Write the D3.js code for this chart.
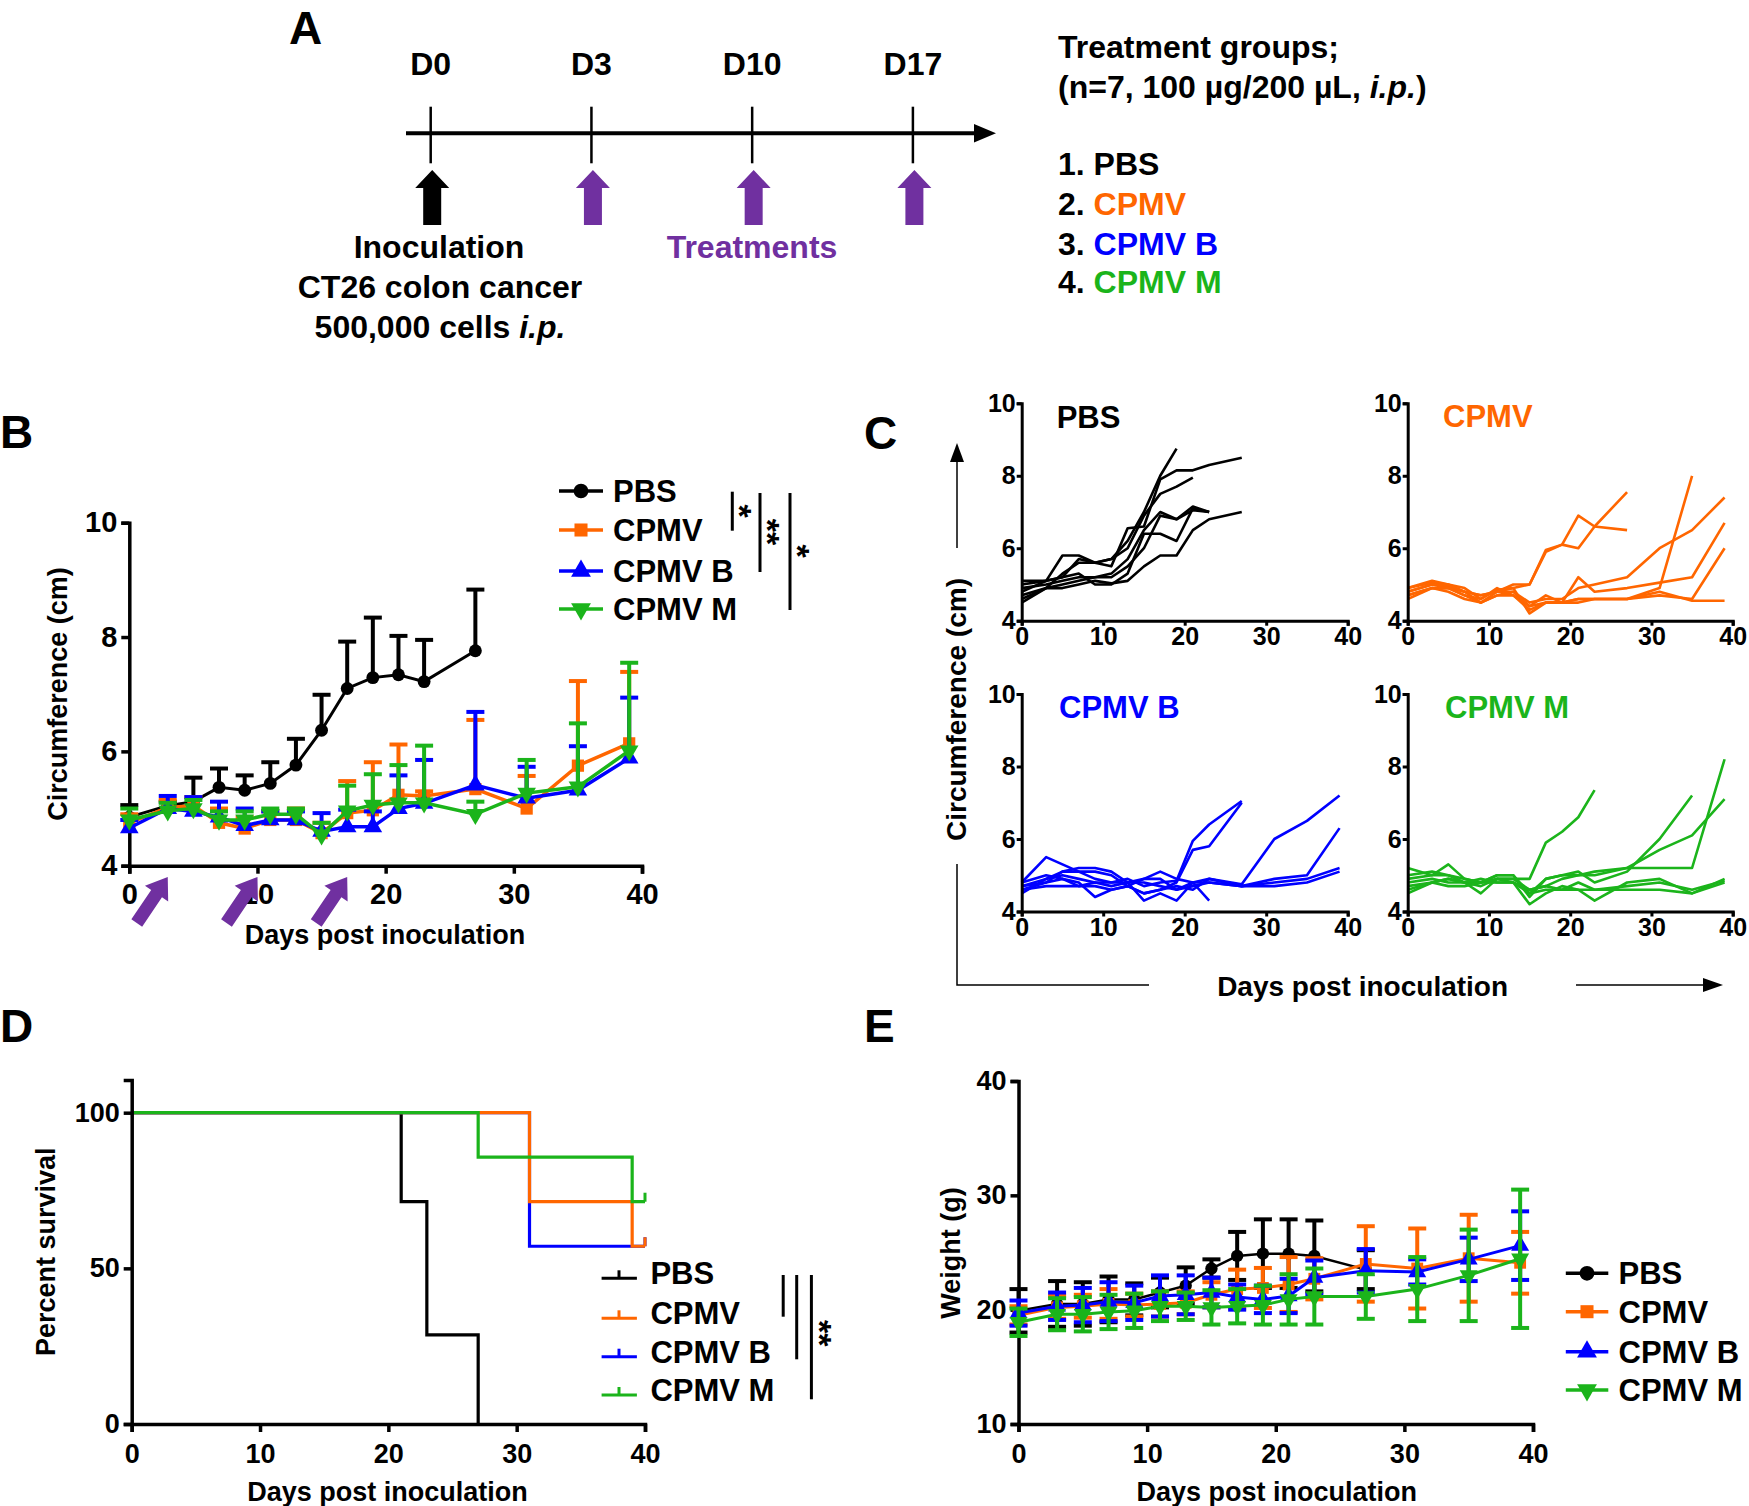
<!DOCTYPE html>
<html><head><meta charset="utf-8">
<script src="https://cdn.jsdelivr.net/npm/d3@7"></script>
<style>
body{margin:0;background:#fff;}
</style></head><body>
<svg id="fig" width="1749" height="1506" xmlns="http://www.w3.org/2000/svg"></svg>
<script>
// ---------------- DATA ----------------
const groups = ["PBS", "CPMV", "CPMV B", "CPMV M"];
const groupColors = ["#000000", "#FF6600", "#0000FF", "#1BB41B"];
const timelineLabels = ["D0", "D3", "D10", "D17"];
const treatmentDays = [3, 10, 17];
const measureDays = [0, 3, 5, 7, 9, 11, 13, 15, 17, 19, 21, 23, 27, 31, 35, 39];
const dayTicks = [0, 10, 20, 30, 40];

// Panel B: mean circumference (cm) and upper error (mean + SEM)
const bPBS      = [4.85, 5.05, 5.12, 5.37, 5.32, 5.44, 5.76, 6.37, 7.10, 7.29, 7.34, 7.22, 7.76];
const bPBSTop   = [5.06, 5.12, 5.54, 5.70, 5.58, 5.81, 6.22, 6.99, 7.92, 8.34, 8.02, 7.95, 8.83];
const bCPMV     = [4.75, 5.02, 5.05, 4.75, 4.65, 4.80, 4.80, 4.57, 4.92, 4.97, 5.24, 5.22, 5.34, 5.00, 5.75, 6.14];
const bCPMVTop  = [4.90, 5.15, 5.20, 5.00, 4.85, 4.95, 5.00, 4.75, 5.48, 5.81, 6.12, 5.30, 6.55, 5.57, 7.23, 7.39];
const bCPMVB    = [4.66, 5.00, 4.95, 4.85, 4.70, 4.80, 4.80, 4.60, 4.68, 4.68, 5.00, 5.09, 5.41, 5.18, 5.32, 5.88];
const bCPMVBTop = [4.80, 5.22, 5.20, 5.12, 5.00, 4.95, 4.95, 4.92, 4.98, 4.95, 5.58, 5.85, 6.69, 5.73, 6.09, 6.94];
const bCPMVM    = [4.80, 4.96, 5.00, 4.80, 4.80, 4.90, 4.90, 4.54, 4.96, 5.06, 5.10, 5.10, 4.90, 5.27, 5.38, 6.01];
const bCPMVMTop = [5.00, 5.10, 5.15, 4.95, 4.95, 5.00, 5.00, 4.75, 5.40, 5.60, 5.76, 6.10, 5.12, 5.85, 6.49, 7.55];

// Panel C: individual mice (values at measureDays, truncated at last measurement)
const cPBS = [
  [4.6, 4.9, 5.3, 5.6, 5.6, 5.7, 6.2, 7.0, 8.0, 8.75],
  [5.1, 5.1, 5.8, 5.8, 5.6, 5.5, 6.55, 6.6, 7.9, 8.15, 8.15, 8.3, 8.5],
  [4.8, 5.1, 5.2, 5.7, 5.6, 5.7, 6.0, 6.9, 7.5, 7.7, 7.95],
  [4.9, 5.0, 5.1, 5.2, 5.2, 5.3, 5.7, 6.5, 7.0, 6.8, 7.15, 7.0],
  [5.0, 5.1, 5.2, 5.3, 5.0, 5.0, 5.3, 6.4, 6.4, 6.2, 7.1, 7.0],
  [4.5, 4.9, 4.9, 5.0, 5.1, 5.03, 5.1, 5.5, 5.8, 5.8, 6.5, 6.8, 7.0],
  [4.7, 4.9, 5.0, 5.1, 5.2, 5.2, 5.5, 6.0, 6.9, 6.8, 7.05, 7.0]
];
const cCPMV = [
  [4.9, 5.05, 5.0, 4.9, 4.6, 4.85, 4.9, 5.0, 5.9, 6.1, 6.9, 6.6, 6.5],
  [4.8, 5.0, 4.95, 4.8, 4.7, 4.8, 5.0, 5.0, 5.95, 6.1, 6.0, 6.6, 7.55],
  [4.9, 5.1, 5.0, 4.8, 4.5, 4.8, 4.9, 4.2, 4.5, 4.5, 4.6, 4.6, 4.6, 4.9, 8.0],
  [4.7, 4.9, 4.9, 4.8, 4.7, 4.8, 4.8, 4.5, 4.6, 4.6, 4.9, 5.0, 5.2, 6.0, 6.5, 7.4],
  [4.8, 5.0, 4.9, 4.7, 4.6, 4.9, 4.7, 4.4, 4.7, 4.5, 5.2, 4.8, 4.9, 5.05, 5.2, 6.7],
  [4.6, 4.9, 4.9, 4.7, 4.5, 4.7, 4.8, 4.4, 4.5, 4.5, 4.6, 4.6, 4.6, 4.7, 4.6, 6.0],
  [4.7, 4.9, 4.8, 4.6, 4.5, 4.7, 4.7, 4.3, 4.5, 4.5, 4.5, 4.6, 4.6, 4.8, 4.55, 4.55]
];
const cCPMVB = [
  [4.7, 4.9, 5.0, 4.9, 4.8, 4.8, 4.9, 4.7, 4.8, 4.85, 5.95, 6.4, 7.05],
  [4.6, 4.8, 5.1, 5.1, 5.1, 5.0, 4.7, 4.5, 4.6, 4.8, 5.7, 5.8, 7.0],
  [4.8, 5.5, 5.3, 5.1, 4.9, 4.8, 4.8, 4.3, 4.5, 4.3, 4.8, 4.3],
  [4.5, 4.9, 5.1, 5.2, 5.2, 5.1, 4.8, 4.9, 5.1, 4.9, 4.8, 4.9, 4.75, 6.0, 6.5, 7.2],
  [4.7, 4.8, 4.9, 4.8, 4.4, 4.6, 4.7, 4.9, 4.9, 4.6, 4.7, 4.8, 4.7, 4.9, 5.0, 6.3],
  [4.8, 5.0, 4.9, 4.7, 4.7, 4.6, 4.7, 4.5, 4.6, 4.7, 4.6, 4.9, 4.7, 4.8, 4.9, 5.2],
  [4.6, 4.7, 4.7, 4.7, 4.8, 4.7, 4.8, 4.8, 4.7, 4.6, 4.8, 4.8, 4.7, 4.7, 4.8, 5.1]
];
const cCPMVM = [
  [4.9, 5.0, 5.0, 4.9, 4.8, 4.9, 4.9, 4.9, 5.9, 6.2, 6.6, 7.35],
  [5.2, 5.0, 5.3, 4.9, 4.8, 5.0, 5.0, 4.4, 4.9, 5.0, 5.1, 4.8, 5.1, 6.0, 7.2],
  [5.0, 5.1, 5.0, 4.8, 4.8, 5.0, 5.0, 4.5, 4.9, 5.0, 5.0, 5.1, 5.2, 5.2, 5.2, 8.2],
  [4.5, 4.8, 4.9, 4.8, 4.7, 4.9, 4.9, 4.6, 4.7, 4.9, 5.0, 5.0, 5.2, 5.7, 6.1, 7.1],
  [4.8, 4.9, 4.8, 4.8, 4.9, 4.8, 4.8, 4.2, 4.5, 4.7, 4.6, 4.3, 4.8, 4.9, 4.5, 4.9],
  [4.6, 4.8, 4.9, 4.8, 4.5, 4.9, 4.8, 4.6, 4.7, 4.6, 4.8, 4.6, 4.7, 4.8, 4.6, 4.85],
  [4.7, 4.8, 4.7, 4.7, 4.8, 4.8, 4.8, 4.5, 4.6, 4.6, 4.6, 4.6, 4.6, 4.6, 4.5, 4.8]
];

// Panel D: Kaplan-Meier steps [day, percent survival]
const survPBS   = [[0, 100], [21, 71.4], [23, 28.6], [27, 0]];
const survCPMV  = [[0, 100], [31, 71.4], [39, 57.1], [40, 57.1]];
const survCPMVB = [[0, 100], [31, 57.1], [40, 57.1]];
const survCPMVM = [[0, 100], [27, 85.7], [39, 71.4], [40, 71.4]];

// Panel E: weight (g) mean and SD
const ePBS      = [19.9, 20.5, 20.5, 20.9, 20.9, 21.5, 22.1, 23.6, 24.7, 24.9, 24.9, 24.7, 23.5];
const ePBSErr   = [1.9, 2.0, 1.9, 2.0, 1.4, 1.3, 1.6, 0.8, 2.1, 3.0, 3.0, 3.1, 1.7];
const eCPMV     = [19.5, 20.2, 20.3, 20.5, 20.4, 20.5, 20.6, 21.3, 21.8, 21.9, 22.2, 22.7, 24.0, 23.6, 24.5, 24.1];
const eCPMVErr  = [0.8, 1.0, 1.0, 1.3, 1.0, 1.1, 1.0, 1.1, 1.7, 1.75, 2.4, 1.8, 3.3, 3.5, 3.8, 2.7];
const eCPMVB    = [19.7, 20.3, 20.4, 20.7, 20.6, 21.2, 21.3, 21.5, 21.1, 20.9, 21.2, 22.8, 23.4, 23.3, 24.4, 25.6];
const eCPMVBErr = [1.1, 1.2, 1.5, 1.7, 1.5, 1.8, 1.7, 1.3, 1.1, 1.2, 1.5, 1.5, 1.9, 1.1, 1.9, 3.0];
const eCPMVM    = [18.9, 19.6, 19.6, 19.8, 19.9, 20.3, 20.3, 20.2, 20.3, 20.4, 20.9, 21.15, 21.15, 21.8, 23.0, 24.45];
const eCPMVMErr = [1.2, 1.4, 1.5, 1.5, 1.5, 1.3, 1.2, 1.5, 1.5, 1.7, 2.2, 2.45, 1.95, 2.8, 4.0, 6.05];

// ---------------- DRAWING ----------------
const FONT = '"Liberation Sans", Arial, Helvetica, sans-serif';
const PURPLE = "#7030A0";
const svg = d3.select("#fig");

function txt(g, x, y, s, size, o = {}) {
  const t = g.append("text").attr("x", x).attr("y", y)
    .attr("font-size", size).attr("font-weight", "bold").attr("font-family", FONT)
    .attr("fill", o.fill || "#000").attr("text-anchor", o.anchor || "start");
  if (o.rotate) t.attr("transform", `rotate(${o.rotate},${x},${y})`);
  if (o.central) t.attr("dominant-baseline", "central");
  if (s !== null) t.text(s);
  return t;
}
function blockArrow(g, x1, y1, x2, y2, sw, hw, hl, color) {
  const dx = x2 - x1, dy = y2 - y1, L = Math.hypot(dx, dy);
  const ux = dx / L, uy = dy / L, px = -uy, py = ux;
  const bx = x2 - ux * hl, by = y2 - uy * hl;
  const pts = [
    [x1 + px * sw / 2, y1 + py * sw / 2], [bx + px * sw / 2, by + py * sw / 2],
    [bx + px * hw / 2, by + py * hw / 2], [x2, y2],
    [bx - px * hw / 2, by - py * hw / 2], [bx - px * sw / 2, by - py * sw / 2],
    [x1 - px * sw / 2, y1 - py * sw / 2]];
  g.append("polygon").attr("points", pts.map(p => p.join(",")).join(" ")).attr("fill", color);
}
function styleAxis(a, fs, sw) {
  a.attr("font-family", FONT).attr("font-size", fs).attr("font-weight", "bold");
  a.select(".domain").attr("stroke", "#000").attr("stroke-width", sw);
  a.selectAll(".tick line").attr("stroke", "#000").attr("stroke-width", sw);
  a.selectAll(".tick text").attr("fill", "#000");
}
function drawAxes(g, x, y, xTicks, yTicks, o) {
  const fmt = d3.format("d");
  const ax = g.append("g").attr("transform", `translate(0,${y.range()[0]})`)
    .call(d3.axisBottom(x).tickValues(xTicks).tickFormat(fmt).tickSizeOuter(0).tickSize(o.ts).tickPadding(o.xpad));
  styleAxis(ax, o.fs, o.sw);
  const ay = g.append("g").attr("transform", `translate(${x.range()[0]},0)`)
    .call(d3.axisLeft(y).tickValues(yTicks).tickFormat(fmt).tickSizeOuter(0).tickSize(o.ts).tickPadding(o.ypad));
  styleAxis(ay, o.fs, o.sw);
}
const symTypes = [d3.symbolCircle, d3.symbolSquare, d3.symbolTriangle, d3.symbolTriangle];
function marker(g, x, y, gi, size) {
  g.append("path").attr("d", d3.symbol().type(symTypes[gi]).size(size)())
    .attr("transform", `translate(${x},${y})` + (gi === 3 ? " rotate(180)" : ""))
    .attr("fill", groupColors[gi]);
}

// ===== Panel letters =====
txt(svg, 289, 44, "A", 46);
txt(svg, 0, 448, "B", 46);
txt(svg, 864, 449, "C", 46);
txt(svg, 0, 1042, "D", 46);
txt(svg, 864, 1042, "E", 46);

// ===== Panel A =====
{
  const g = svg.append("g");
  const xt = d3.scalePoint().domain(timelineLabels).range([430.7, 912.9]);
  g.append("line").attr("x1", 406).attr("x2", 980).attr("y1", 133.3).attr("y2", 133.3)
    .attr("stroke", "#000").attr("stroke-width", 4);
  g.append("polygon").attr("points", "974,124 996,133.3 974,142.6").attr("fill", "#000");
  timelineLabels.forEach((d, i) => {
    const x = xt(d);
    g.append("line").attr("x1", x).attr("x2", x).attr("y1", 106.7).attr("y2", 163.3)
      .attr("stroke", "#000").attr("stroke-width", 2.5);
    txt(g, x, 75, d, 32, { anchor: "middle" });
    blockArrow(g, x + 1.5, 225, x + 1.5, 170, 18, 34, 18, i === 0 ? "#000" : PURPLE);
  });
  txt(g, 439, 258, "Inoculation", 32, { anchor: "middle" });
  txt(g, 440, 298, "CT26 colon cancer", 32, { anchor: "middle" });
  const t3 = txt(g, 440, 338, null, 32, { anchor: "middle" });
  t3.append("tspan").text("500,000 cells ");
  t3.append("tspan").attr("font-style", "italic").text("i.p.");
  txt(g, 752, 258, "Treatments", 32, { anchor: "middle", fill: PURPLE });

  txt(g, 1058, 58, "Treatment groups;", 32);
  const t4 = txt(g, 1058, 98, null, 32);
  t4.append("tspan").text("(n=7, 100 µg/200 µL, ");
  t4.append("tspan").attr("font-style", "italic").text("i.p.");
  t4.append("tspan").text(")");
  const ys = [175, 215, 255, 293.3];
  groups.forEach((name, i) => {
    const t = txt(g, 1058, ys[i], null, 32);
    t.append("tspan").text((i + 1) + ". ");
    t.append("tspan").attr("fill", groupColors[i]).text(name);
  });
}

// ===== Panel B =====
{
  const g = svg.append("g");
  const x = d3.scaleLinear([0, 40], [129.3, 642]);
  const y = d3.scaleLinear([4, 10], [865.7, 522.7]);
  drawAxes(g, x, y, dayTicks, [4, 6, 8, 10], { ts: 8, xpad: 10, ypad: 4, fs: 29, sw: 3.5 });
  txt(g, 385, 944, "Days post inoculation", 27, { anchor: "middle" });
  txt(g, 58, 694, "Circumference (cm)", 27, { anchor: "middle", rotate: -90, central: true });

  const series = [[bPBS, bPBSTop], [bCPMV, bCPMVTop], [bCPMVB, bCPMVBTop], [bCPMVM, bCPMVMTop]];
  const line = d3.line().x(d => x(d[0])).y(d => y(d[1]));
  series.forEach(([m, top], gi) => {
    const c = groupColors[gi];
    const pts = m.map((v, i) => [measureDays[i], v, top[i]]);
    const eg = g.append("g").attr("stroke", c).attr("stroke-width", 4);
    pts.forEach(p => {
      eg.append("line").attr("x1", x(p[0])).attr("x2", x(p[0])).attr("y1", y(p[1])).attr("y2", y(p[2]));
      eg.append("line").attr("x1", x(p[0]) - 9).attr("x2", x(p[0]) + 9).attr("y1", y(p[2])).attr("y2", y(p[2]));
    });
    g.append("path").datum(pts).attr("d", line).attr("fill", "none").attr("stroke", c)
      .attr("stroke-width", gi === 0 ? 3 : 3.5);
    pts.forEach(p => marker(g, x(p[0]), y(p[1]), gi, gi === 0 ? 130 : 150));
  });
  // treatment arrows
  treatmentDays.forEach(d => {
    const tx = x(d), ty = 877;
    blockArrow(g, tx - 31, ty + 46, tx, ty, 13, 28, 20, PURPLE);
  });
  // legend
  const ly = [491, 530, 571, 609];
  groups.forEach((name, i) => {
    g.append("line").attr("x1", 559).attr("x2", 603).attr("y1", ly[i]).attr("y2", ly[i])
      .attr("stroke", groupColors[i]).attr("stroke-width", 3.5);
    marker(g, 581, ly[i], i, 170);
    txt(g, 613, ly[i] + 11, name, 31);
  });
  // significance brackets
  const br = [[732.3, 491.7, 530.7, "*", 740, 511], [760, 493, 572, "**", 767.5, 532], [790, 493, 610, "*", 797.5, 551]];
  br.forEach(b => {
    g.append("line").attr("x1", b[0]).attr("x2", b[0]).attr("y1", b[1]).attr("y2", b[2])
      .attr("stroke", "#000").attr("stroke-width", 3);
    txt(g, b[4], b[5], b[3], 34, { anchor: "middle", rotate: 90, central: true });
  });
}

// ===== Panel C =====
{
  const g = svg.append("g");
  const panels = [
    { data: cPBS, gi: 0, x0: 1021.7, x1: 1347.7, y0: 620.7, y1: 403.3, tx: 1056.7, ty: 428 },
    { data: cCPMV, gi: 1, x0: 1407.7, x1: 1732.7, y0: 620.7, y1: 403.3, tx: 1443, ty: 427 },
    { data: cCPMVB, gi: 2, x0: 1021.7, x1: 1347.7, y0: 911.5, y1: 694, tx: 1059, ty: 718 },
    { data: cCPMVM, gi: 3, x0: 1407.7, x1: 1732.7, y0: 911.5, y1: 694, tx: 1445, ty: 718 }
  ];
  panels.forEach(p => {
    const x = d3.scaleLinear([0, 40], [p.x0, p.x1]);
    const y = d3.scaleLinear([4, 10], [p.y0, p.y1]);
    const line = d3.line().x((d, i) => x(measureDays[i])).y(d => y(d));
    p.data.forEach(tr => {
      g.append("path").datum(tr).attr("d", line).attr("fill", "none")
        .attr("stroke", groupColors[p.gi]).attr("stroke-width", 2.6).attr("stroke-linejoin", "round");
    });
    drawAxes(g, x, y, dayTicks, [4, 6, 8, 10], { ts: 5, xpad: 2, ypad: 1, fs: 25, sw: 3 });
    txt(g, p.tx, p.ty, groups[p.gi], 31, { fill: groupColors[p.gi] });
  });
  // shared labels and arrows
  txt(g, 956, 709.5, "Circumference (cm)", 28, { anchor: "middle", rotate: -90, central: true });
  g.append("line").attr("x1", 957).attr("x2", 957).attr("y1", 548).attr("y2", 458)
    .attr("stroke", "#000").attr("stroke-width", 1.5);
  g.append("polygon").attr("points", "950,462 957,443 964,462").attr("fill", "#000");
  g.append("path").attr("d", "M957,864 V985 H1149").attr("fill", "none")
    .attr("stroke", "#000").attr("stroke-width", 1.5);
  txt(g, 1362.6, 986, "Days post inoculation", 28, { anchor: "middle", central: true });
  g.append("line").attr("x1", 1576).attr("x2", 1705).attr("y1", 985).attr("y2", 985)
    .attr("stroke", "#000").attr("stroke-width", 1.5);
  g.append("polygon").attr("points", "1703,978 1723,985 1703,992").attr("fill", "#000");
}

// ===== Panel D =====
{
  const g = svg.append("g");
  const x = d3.scaleLinear([0, 40], [131.7, 645]);
  const y = d3.scaleLinear([0, 110.5], [1424, 1080]);
  const curves = [survPBS, survCPMVB, survCPMV, survCPMVM];
  const order = [0, 2, 1, 3];
  const line = d3.line().x(d => x(d[0])).y(d => y(d[1])).curve(d3.curveStepAfter);
  curves.forEach((c, k) => {
    const gi = order[k];
    g.append("path").datum(c).attr("d", line).attr("fill", "none")
      .attr("stroke", groupColors[gi]).attr("stroke-width", 3.2);
    if (gi !== 0) {
      const last = c[c.length - 1];
      g.append("line").attr("x1", x(last[0])).attr("x2", x(last[0]))
        .attr("y1", y(last[1])).attr("y2", y(last[1]) - 9)
        .attr("stroke", groupColors[gi]).attr("stroke-width", 3);
    }
  });
  drawAxes(g, x, y, dayTicks, [0, 50, 100], { ts: 8, xpad: 12, ypad: 4, fs: 27, sw: 3.5 });
  txt(g, 387.5, 1501, "Days post inoculation", 27, { anchor: "middle" });
  txt(g, 46, 1251.7, "Percent survival", 27, { anchor: "middle", rotate: -90, central: true });
  const ly = [1273.3, 1313.3, 1351.7, 1390];
  groups.forEach((name, i) => {
    g.append("line").attr("x1", 601.6).attr("x2", 636.9).attr("y1", ly[i] + 5).attr("y2", ly[i] + 5)
      .attr("stroke", groupColors[i]).attr("stroke-width", 3);
    g.append("line").attr("x1", 619).attr("x2", 619).attr("y1", ly[i] + 5).attr("y2", ly[i] - 3)
      .attr("stroke", groupColors[i]).attr("stroke-width", 3);
    txt(g, 650.4, ly[i] + 11, name, 31);
  });
  [[783.2, 1316.7], [796.7, 1359.3], [811.4, 1399.3]].forEach(b => {
    g.append("line").attr("x1", b[0]).attr("x2", b[0]).attr("y1", 1275).attr("y2", b[1])
      .attr("stroke", "#000").attr("stroke-width", 3);
  });
  txt(g, 820, 1333.3, "**", 34, { anchor: "middle", rotate: 90, central: true });
}

// ===== Panel E =====
{
  const g = svg.append("g");
  const x = d3.scaleLinear([0, 40], [1018.5, 1533]);
  const y = d3.scaleLinear([10, 40], [1424, 1081]);
  drawAxes(g, x, y, dayTicks, [10, 20, 30, 40], { ts: 8, xpad: 12, ypad: 4, fs: 27, sw: 3.5 });
  txt(g, 1276.7, 1501, "Days post inoculation", 27, { anchor: "middle" });
  txt(g, 950.7, 1253, "Weight (g)", 27, { anchor: "middle", rotate: -90, central: true });
  const series = [[ePBS, ePBSErr], [eCPMV, eCPMVErr], [eCPMVB, eCPMVBErr], [eCPMVM, eCPMVMErr]];
  const line = d3.line().x(d => x(d[0])).y(d => y(d[1]));
  series.forEach(([m, e], gi) => {
    const c = groupColors[gi];
    const pts = m.map((v, i) => [measureDays[i], v, e[i]]);
    const eg = g.append("g").attr("stroke", c).attr("stroke-width", 4);
    pts.forEach(p => {
      const px = x(p[0]);
      eg.append("line").attr("x1", px).attr("x2", px).attr("y1", y(p[1] - p[2])).attr("y2", y(p[1] + p[2]));
      eg.append("line").attr("x1", px - 9).attr("x2", px + 9).attr("y1", y(p[1] + p[2])).attr("y2", y(p[1] + p[2]));
      eg.append("line").attr("x1", px - 9).attr("x2", px + 9).attr("y1", y(p[1] - p[2])).attr("y2", y(p[1] - p[2]));
    });
    g.append("path").datum(pts).attr("d", line).attr("fill", "none").attr("stroke", c)
      .attr("stroke-width", gi === 0 ? 2.5 : 3);
    pts.forEach(p => marker(g, x(p[0]), y(p[1]), gi, gi === 0 ? 120 : 140));
  });
  const ly = [1273.3, 1311.7, 1351.7, 1390];
  groups.forEach((name, i) => {
    g.append("line").attr("x1", 1565.8).attr("x2", 1608.3).attr("y1", ly[i]).attr("y2", ly[i])
      .attr("stroke", groupColors[i]).attr("stroke-width", 3.5);
    marker(g, 1587, ly[i], i, 170);
    txt(g, 1618.5, ly[i] + 11, name, 31);
  });
}
</script>
</body></html>
